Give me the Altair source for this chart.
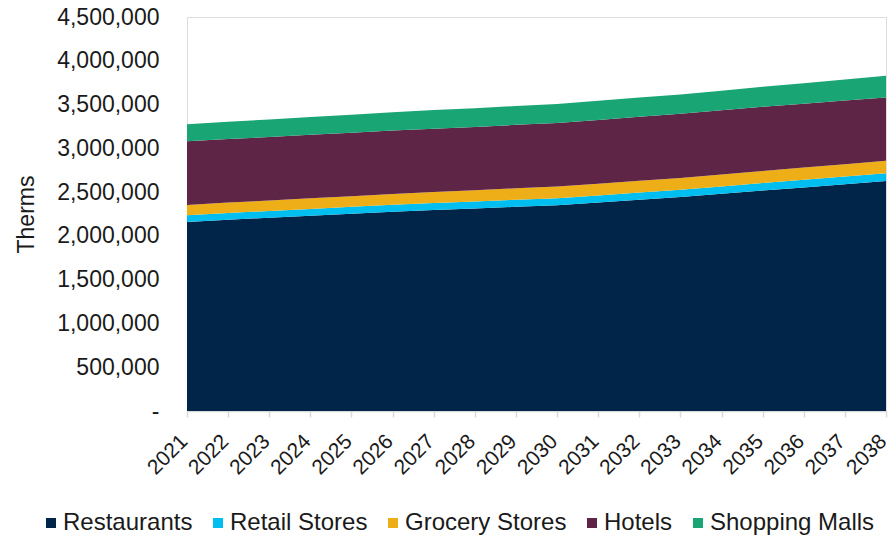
import altair as alt
import pandas as pd

years = list(range(2021, 2039))
categories = ["Restaurants", "Retail Stores", "Grocery Stores", "Hotels", "Shopping Malls"]
colors = ["#002548", "#00BFF0", "#EDAE18", "#5E2547", "#1AA575"]

restaurants = [2160000, 2185000, 2208000, 2230000, 2253000, 2276000, 2295000, 2313000, 2332000,
               2350000, 2380000, 2412000, 2443000, 2480000, 2518000, 2554000, 2590000, 2626000]
retail = [75000, 76000, 77000, 78000, 79000, 79000, 80000, 80000, 81000,
          81000, 82000, 83000, 84000, 85000, 85000, 86000, 87000, 88000]
grocery = [118000, 119000, 120000, 121000, 122000, 124000, 126000, 128000, 130000,
           132000, 133000, 134000, 135000, 136000, 138000, 140000, 142000, 144000]
hotels = [727000, 726000, 725000, 725000, 724000, 724000, 724000, 724000, 725000,
          726000, 730000, 733000, 734000, 735000, 734000, 730000, 727000, 724000]
malls = [194000, 197000, 200000, 203000, 206000, 209000, 212000, 214000, 216000,
         217000, 218000, 219000, 220000, 222000, 228000, 234000, 240000, 247000]

series = [restaurants, retail, grocery, hotels, malls]
rows = []
for idx, (cat, vals) in enumerate(zip(categories, series)):
    for y, v in zip(years, vals):
        rows.append({"Year": y, "Category": cat, "Therms": v, "order": idx})
df = pd.DataFrame(rows)

FONT = "Liberation Sans"
TXT = "#1a1a1a"

chart = alt.Chart(df).mark_area(opacity=1, interpolate="linear").encode(
    x=alt.X("Year:Q",
            scale=alt.Scale(domain=[2021, 2038], nice=False, zero=False),
            axis=alt.Axis(values=years, format="d", labelAngle=-45, labelAlign="right",
                          labelBaseline="middle", labelPadding=21, labelFontSize=21,
                          labelFont=FONT, labelColor=TXT, grid=False, labelOffset=-3,
                          domainColor="#d9d9d9", domainWidth=1.5, tickColor="#d9d9d9",
                          tickWidth=1.5, tickSize=6, title=None, labelOverlap=False,
                          labelBound=False, labelFlush=False)),
    y=alt.Y("Therms:Q", stack="zero",
            scale=alt.Scale(domain=[0, 4500000], nice=False),
            axis=alt.Axis(values=[0, 500000, 1000000, 1500000, 2000000, 2500000, 3000000,
                                  3500000, 4000000, 4500000],
                          labelExpr="datum.value == 0 ? '-\u00a0\u00a0' : format(datum.value, ',')",
                          labelFontSize=23, labelFont=FONT, labelColor=TXT,
                          grid=False, domain=False, ticks=False, labelPadding=28,
                          title="Therms", titleFont=FONT, titleFontSize=23,
                          titleFontWeight="normal", titleColor=TXT, titlePadding=18)),
    color=alt.Color("Category:N",
                    scale=alt.Scale(domain=categories, range=colors),
                    sort=categories,
                    legend=alt.Legend(title=None, orient="none", direction="horizontal",
                                      legendX=-148, legendY=494, symbolType="square",
                                      symbolSize=100, symbolStrokeWidth=0,
                                      labelFont=FONT, labelFontSize=24, labelColor=TXT,
                                      columnPadding=13, labelOffset=0, labelLimit=300)),
    order=alt.Order("order:Q", sort="ascending"),
).properties(
    width=699,
    height=394,
    autosize=alt.AutoSizeParams(type="none"),
    padding={"left": 187, "top": 17, "right": 4, "bottom": 126},
).configure_view(stroke=None).configure(background="white")

chart.save("out.html", embed_options={"renderer": "svg", "actions": False})
